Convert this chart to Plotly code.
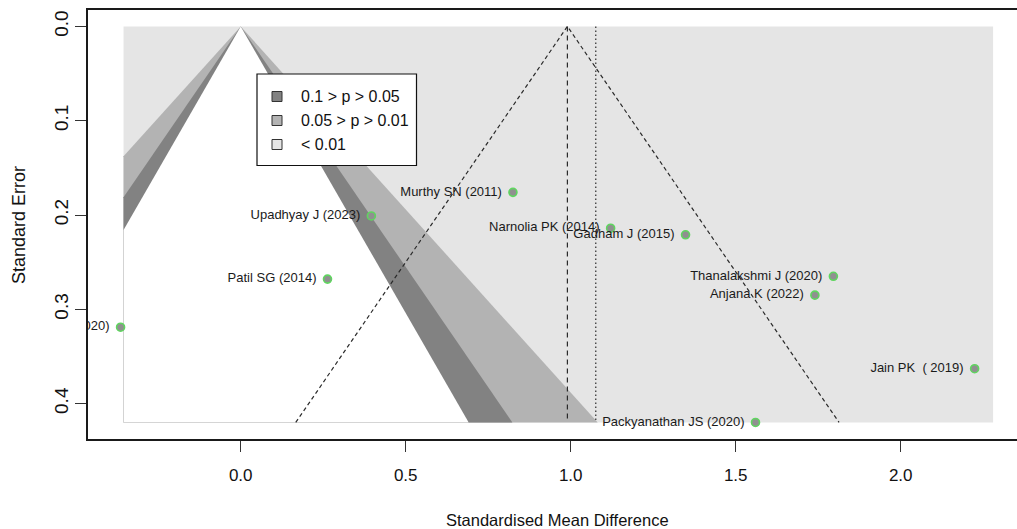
import plotly.graph_objects as go

# ---------------- data ----------------
studies = ["Study (2020)", "Upadhyay J (2023)", "Patil SG (2014)", "Murthy SN (2011)",
           "Narnolia PK (2014)", "Gadham J (2015)", "Thanalakshmi J (2020)",
           "Anjana K (2022)", "Jain PK\u00a0 ( 2019)", "Packyanathan JS (2020)"]
smd = [-0.364, 0.396, 0.263, 0.825, 1.121, 1.348, 1.796, 1.740, 2.224, 1.560]
se = [0.319, 0.201, 0.268, 0.176, 0.214, 0.221, 0.265, 0.285, 0.363, 0.420]

pooled_est = 0.99        # dashed reference (pooled estimate)
adj_est = 1.076          # dotted reference line
contour_z = [2.576, 1.96, 1.645]   # p = 0.01, 0.05, 0.10 (two-sided)
contour_colors = ["#b3b3b3", "#828282", "#ffffff"]
back_color = "#e5e5e5"
legend_labels = ["0.1 > p > 0.05", "0.05 > p > 0.01", "< 0.01"]
legend_colors = ["#828282", "#b3b3b3", "#e5e5e5"]
xlim = (-0.355, 2.28)
x_ticks = [0.0, 0.5, 1.0, 1.5, 2.0]
x_ticklabels = ["0.0", "0.5", "1.0", "1.5", "2.0"]
y_ticks = [0.0, 0.1, 0.2, 0.3, 0.4]
y_ticklabels = ["0.0", "0.1", "0.2", "0.3", "0.4"]

# ---------------- layout geometry ----------------
W, H = 1017, 529
L, R, T, B = 88, 1017, 10, 439
x0_px, x_scale = 240.7, 330.0     # pixel of 0, px per unit
y0_px, y_scale = 26.4, 943.0
x_range = [(L - x0_px) / x_scale, (R - x0_px) / x_scale]
y_range = [(B - y0_px) / y_scale, (T - y0_px) / y_scale]


def pxp(px):
    return (px - L) / (R - L)


def pyp(py):
    return (B - py) / (B - T)


se_max = max(se)


def clip_poly(pts, xmin, xmax):
    def clip(points, inside, inter):
        out = []
        n = len(points)
        for i in range(n):
            cur, prev = points[i], points[i - 1]
            if inside(cur):
                if not inside(prev):
                    out.append(inter(prev, cur))
                out.append(cur)
            elif inside(prev):
                out.append(inter(prev, cur))
        return out

    def ix(xv):
        def f(p, q):
            t = (xv - p[0]) / (q[0] - p[0])
            return (xv, p[1] + t * (q[1] - p[1]))
        return f

    pts = clip(pts, lambda p: p[0] >= xmin, ix(xmin))
    pts = clip(pts, lambda p: p[0] <= xmax, ix(xmax))
    return pts


fig = go.Figure()

# background
bx = [xlim[0], xlim[1], xlim[1], xlim[0], xlim[0]]
by = [0, 0, se_max, se_max, 0]
fig.add_trace(go.Scatter(x=bx, y=by, fill="toself", fillcolor=back_color,
                         line=dict(width=0), mode="lines", hoverinfo="skip",
                         showlegend=False))
for z, col in zip(contour_z, contour_colors):
    tri = [(0.0, 0.0), (-z * se_max, se_max), (z * se_max, se_max)]
    poly = clip_poly(tri, xlim[0], xlim[1])
    px_ = [p[0] for p in poly] + [poly[0][0]]
    py_ = [p[1] for p in poly] + [poly[0][1]]
    fig.add_trace(go.Scatter(x=px_, y=py_, fill="toself", fillcolor=col,
                             line=dict(width=0), mode="lines", hoverinfo="skip",
                             showlegend=False))

# pseudo-confidence funnel around pooled estimate
ci = 1.96
fig.add_trace(go.Scatter(
    x=[pooled_est - ci * se_max, pooled_est, pooled_est + ci * se_max],
    y=[se_max, 0, se_max], mode="lines",
    line=dict(color="#2a2a2a", width=1.2, dash="4px,3px"),
    hoverinfo="skip", showlegend=False))
fig.add_trace(go.Scatter(x=[pooled_est, pooled_est], y=[0, se_max], mode="lines",
                         line=dict(color="#2a2a2a", width=1.2, dash="5px,4px"),
                         hoverinfo="skip", showlegend=False))
fig.add_trace(go.Scatter(x=[adj_est, adj_est], y=[0, se_max], mode="lines",
                         line=dict(color="#2a2a2a", width=1.2, dash="1.5px,2.5px"),
                         hoverinfo="skip", showlegend=False))

# study points
fig.add_trace(go.Scatter(x=smd, y=se, mode="markers",
                         marker=dict(size=8, color="#909090",
                                     line=dict(color="#5fd65f", width=1.6)),
                         text=studies, hoverinfo="text", showlegend=False,
                         cliponaxis=False))
# labels (invisible marker sets the text offset)
fig.add_trace(go.Scatter(x=smd, y=se, mode="markers+text", text=studies,
                         textposition="middle left",
                         textfont=dict(family="Liberation Sans, Arial",
                                       size=13, color="#1a1a1a"),
                         marker=dict(size=16, color="rgba(0,0,0,0)"),
                         hoverinfo="skip", showlegend=False, cliponaxis=True))

# legend box (manual)
shapes = [dict(type="rect", xref="paper", yref="paper",
               x0=pxp(257), x1=pxp(416.5), y0=pyp(165.5), y1=pyp(74),
               fillcolor="white", line=dict(color="#111", width=1.2), layer="above")]
annotations = []
rows = [96.5, 120.5, 144.5]
for lab, col, ry in zip(legend_labels, legend_colors, rows):
    shapes.append(dict(type="rect", xref="paper", yref="paper",
                       x0=pxp(272), x1=pxp(282), y0=pyp(ry + 5), y1=pyp(ry - 5),
                       fillcolor=col, line=dict(color="#333", width=1), layer="above"))
    annotations.append(dict(x=pxp(299), y=pyp(ry), xref="paper", yref="paper",
                            text=lab, showarrow=False, xanchor="left", yanchor="middle",
                            font=dict(family="Liberation Sans, Arial", size=16, color="#111")))

annotations.append(dict(x=pxp(557), y=pyp(520), xref="paper", yref="paper",
                        text="Standardised Mean Difference", showarrow=False,
                        xanchor="center", yanchor="middle",
                        font=dict(family="Liberation Sans, Arial", size=16.5, color="#111")))
annotations.append(dict(x=pxp(19), y=pyp(225), xref="paper", yref="paper",
                        text="Standard Error", showarrow=False, textangle=-90,
                        xanchor="center", yanchor="middle",
                        font=dict(family="Liberation Sans, Arial", size=18, color="#111")))

fig.update_layout(
    width=W, height=H,
    margin=dict(l=L, r=W - R, t=T, b=H - B, pad=0),
    plot_bgcolor="white", paper_bgcolor="white",
    shapes=shapes, annotations=annotations,
    xaxis=dict(range=x_range, tickvals=x_ticks, ticktext=x_ticklabels,
               showgrid=False, zeroline=False, showline=True, mirror=True,
               linecolor="#1a1a1a", linewidth=1.5, ticks="outside", ticklen=11,
               tickwidth=1.3, tickcolor="#333", ticklabelstandoff=9,
               tickfont=dict(family="Liberation Sans, Arial", size=17, color="#111")),
    yaxis=dict(range=y_range, tickvals=y_ticks, ticktext=y_ticklabels,
               showgrid=False, zeroline=False, showline=True, mirror=False,
               linecolor="#1a1a1a", linewidth=1.5, ticks="outside", ticklen=11,
               tickwidth=1.3, tickcolor="#333", tickangle=-90, ticklabelstandoff=0,
               tickfont=dict(family="Liberation Sans, Arial", size=19, color="#111")),
)

fig.write_html("out.html", config={"displayModeBar": False},
               post_script="document.body.style.margin='0';document.body.style.overflow='hidden';")
